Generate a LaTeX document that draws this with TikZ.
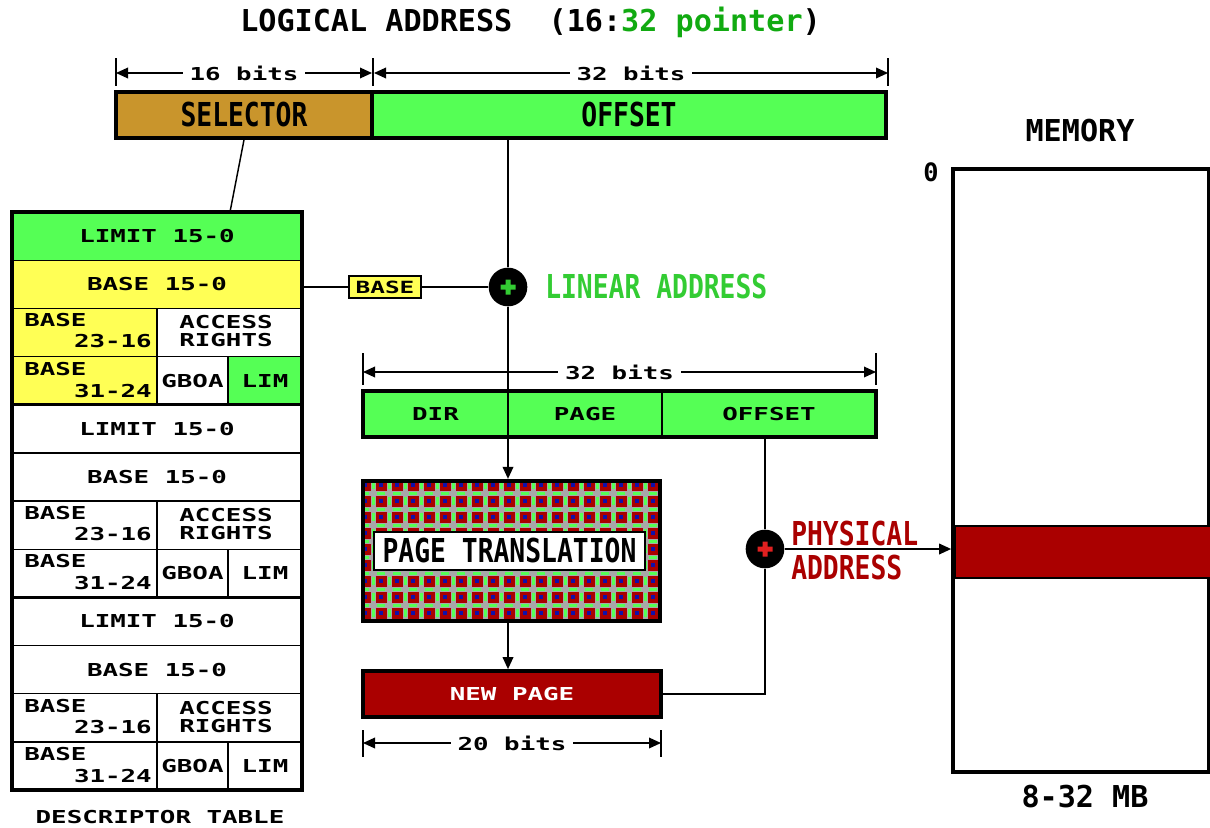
\documentclass[tikz,border=0pt]{standalone}
\usepackage{fontspec}
\usetikzlibrary{arrows.meta,fit}
\newfontfamily\wfont[FakeStretch=1.45]{DejaVu Sans Mono}
\newfontfamily\cfont[FakeStretch=0.8]{DejaVu Sans Mono}
\newfontfamily\mfont{DejaVu Sans Mono}
\definecolor{lgreen}{HTML}{55FF55}
\definecolor{yel}{HTML}{FFFF55}
\definecolor{dred}{HTML}{AA0000}
\definecolor{gold}{HTML}{C9952C}
\definecolor{tgreen}{HTML}{33CC33}
\definecolor{tgreenb}{HTML}{11AA11}
\definecolor{pred}{HTML}{E02020}
\definecolor{ptgray}{HTML}{A8A8A8}
\definecolor{ptblue}{HTML}{1010AA}
\tikzset{
  wide/.style={font={\wfont\bfseries\fontsize{13.35}{14}\selectfont}, inner sep=0pt},
  cond/.style={font={\cfont\bfseries\fontsize{24.7}{26}\selectfont}, inner sep=0pt},
  big/.style={font={\mfont\bfseries\fontsize{22.6}{24}\selectfont}, inner sep=0pt},
  box/.style={draw=black, line width=2.8pt, inner sep=0pt},
  cellbox/.style={draw=black, line width=1pt, inner sep=0pt},
  conn/.style={line width=1.1pt},
  arr/.style={conn, -{Triangle[length=9pt,width=8pt]}},
  dimline/.style={line width=1pt, {Triangle[length=9pt,width=8pt]}-{Triangle[length=9pt,width=8pt]}},
  tickline/.style={line width=1pt},
  dimlabel/.style={wide, fill=white, inner xsep=5pt},
  plusc/.style={circle, fill=black, minimum size=29pt, inner sep=0pt},
}
\begin{document}
\begin{tikzpicture}[x=0.75pt,y=-0.75pt]
\useasboundingbox (0,0) rectangle (1210,828);

% ---- title
\node[big, anchor=west] (title) at (240,22) {LOGICAL ADDRESS\ \ (16:\textcolor{tgreenb}{32 pointer})};

% ---- top dimension lines
\coordinate (d1a) at (116,73); \coordinate (d1b) at (372,73);
\coordinate (d1c) at (374,73); \coordinate (d1d) at (888,73);
\draw[tickline] (116,58) -- (116,86);
\draw[tickline] (373,58) -- (373,86);
\draw[tickline] (888,58) -- (888,86);
\draw[dimline] (d1a) -- node[dimlabel] {16 bits} (d1b);
\draw[dimline] (d1c) -- node[dimlabel] {32 bits} (d1d);

% ---- selector / offset
\node[box, fill=gold, fit={(116,92)(372,138)}] (sel) {};
\node[cond] at (sel.center) {SELECTOR};
\node[box, fill=lgreen, fit={(372,92)(886,138)}] (off) {};
\node[cond] at (off.center) {OFFSET};

% ---- descriptor table
\fill[lgreen] (12,212) rectangle (302,260.2);
\fill[yel] (12,260.2) rectangle (302,308.4);
\fill[yel] (12,308.4) rectangle (157,404.8);
\fill[lgreen] (228,356.6) rectangle (302,404.8);
\foreach \k in {0,1,2} {
  \pgfmathsetmacro\T{212+192.7*\k}
  \pgfmathsetmacro\A{\T+48.2}
  \pgfmathsetmacro\B{\T+96.4}
  \pgfmathsetmacro\C{\T+144.6}
  \pgfmathsetmacro\D{\T+192.7}
  \draw[line width=1pt] (12,\A) -- (302,\A) (12,\B) -- (302,\B) (12,\C) -- (302,\C);
  \draw[line width=1pt] (157,\B) -- (157,\D) (228,\C) -- (228,\D);
  \node[wide] (lim\k) at (157,\T+24.1) {LIMIT 15-0};
  \node[wide] (bas\k) at (157,\A+24.1) {BASE 15-0};
  \node[wide, anchor=west] (b1a\k) at (24,\B+12) {BASE};
  \node[wide, anchor=east] (b1b\k) at (152,\B+33) {23-16};
  \node[wide] (acc\k) at (226,\B+14) {ACCESS};
  \node[wide] (rig\k) at (226,\B+32) {RIGHTS};
  \node[wide, anchor=west] (b2a\k) at (24,\C+12) {BASE};
  \node[wide, anchor=east] (b2b\k) at (152,\C+34) {31-24};
  \node[wide] (gb\k) at (192.5,\C+24.1) {GBOA};
  \node[wide] (lm\k) at (265,\C+24.1) {LIM};
}
\draw[line width=2.4pt] (12,404.7) -- (302,404.7) (12,597.4) -- (302,597.4);
\draw[line width=3.2pt] (12,212) rectangle (302,790);
\node[wide] (dtlabel) at (160,817) {DESCRIPTOR TABLE};
\coordinate (dtTop) at (230,212);
\coordinate (dtBase) at (302,287);
\draw[conn] (sel.south) -- (dtTop);

% ---- base box and linear address adder
\node[draw=black, line width=1.4pt, fill=yel, inner sep=0pt, fit={(349,276)(421,298)}] (bb) {};
\node[wide, font={\wfont\bfseries\fontsize{12.6}{13}\selectfont}] at (bb.center) {BASE};
\node[plusc] (plus1) at (508,287) {};
\fill[tgreen] (500.5,284.5) rectangle (515.5,289.5) (505.5,279.5) rectangle (510.5,294.5);
\node[cond, text=tgreen, anchor=west] (linlabel) at (545,287) {LINEAR ADDRESS};
\draw[conn] (dtBase) -- (bb.west);
\draw[conn] (bb.east) -- (plus1.west);
\draw[conn] (off.south -| plus1.north) -- (plus1.north);

% ---- paging fields
\coordinate (d2a) at (363,372); \coordinate (d2b) at (876,372);
\draw[tickline] (363,353) -- (363,385);
\draw[tickline] (876,353) -- (876,385);
\draw[dimline] (d2a) -- node[dimlabel] {32 bits} (d2b);
\node[cellbox, fill=lgreen, fit={(363,391)(508,437)}] (pgDir) {};
\node[cellbox, fill=lgreen, fit={(508,391)(662,437)}] (pgPage) {};
\node[cellbox, fill=lgreen, fit={(662,391)(876,437)}] (pgOff) {};
\draw[line width=2.6pt] (363,391) rectangle (876,437);
\node[wide] at (pgDir.center) {DIR};
\node[wide] at (pgPage.center) {PAGE};
\node[wide] at (pgOff.center) {OFFSET};

% ---- page translation
\node[box, line width=3.2pt, fill=ptgray, fit={(363,481)(660,621)}] (pt) {};
\begin{scope}
\clip (365,483) rectangle (658,619);
\foreach \i in {-1,...,18} {
  \foreach \j in {-1,...,9} {
    \pgfmathsetmacro\cx{381+16*\i}
    \pgfmathsetmacro\cy{485+16*\j}
    \fill[dred] (\cx-5.5,\cy-5.5) rectangle (\cx+5.5,\cy+5.5);
    \fill[ptblue] (\cx-2,\cy-2) rectangle (\cx+2,\cy+2);
    \fill[lgreen] (\cx-4,\cy-9.5) rectangle (\cx+4,\cy-6.5);
    \fill[lgreen] (\cx-9.5,\cy-4) rectangle (\cx-6.5,\cy+4);
  }
}
\end{scope}
\draw[line width=3.2pt] (363,481) rectangle (660,621);
\node[cellbox, fill=white, fit={(374,532)(645,570)}] (ptl) {};
\node[cond] at (ptl.center) {PAGE TRANSLATION};
\draw[arr] (plus1.south) -- (plus1.south |- pt.north);

% ---- new page
\node[box, fill=dred, fit={(363,671)(661,717)}] (np) {};
\node[wide, text=white] at (np.center) {NEW PAGE};
\draw[arr] (pt.south -| plus1) -- (np.north -| plus1);
\coordinate (d3a) at (363,743); \coordinate (d3b) at (661,743);
\draw[tickline] (363,730) -- (363,757);
\draw[tickline] (661,730) -- (661,757);
\draw[dimline] (d3a) -- node[dimlabel] {20 bits} (d3b);

% ---- physical address adder
\node[plusc] (plus2) at (765,549) {};
\fill[pred] (757.5,546.5) rectangle (772.5,551.5) (762.5,541.5) rectangle (767.5,556.5);
\draw[conn] (plus2.north |- pgOff.south) -- (plus2.north);
\draw[conn] (np.east) -| (plus2.south);
\node[cond, text=dred, anchor=west] (phys1) at (791,534) {PHYSICAL};
\node[cond, text=dred, anchor=west] (phys2) at (791,568) {ADDRESS};

% ---- memory
\node[big] (memlabel) at (1080,131) {MEMORY};
\node[big, font={\mfont\bfseries\fontsize{19}{20}\selectfont}] (zero) at (931,172) {0};
\node[box, fill=white, fit={(953,169)(1209,772)}] (mem) {};
\draw[line width=1pt, fill=dred] (955,526) rectangle (1212,578);
\node[big] (memsize) at (1085,797) {8-32 MB};
\draw[arr] (plus2.east) -- (mem.west |- plus2);
\end{tikzpicture}
\end{document}
